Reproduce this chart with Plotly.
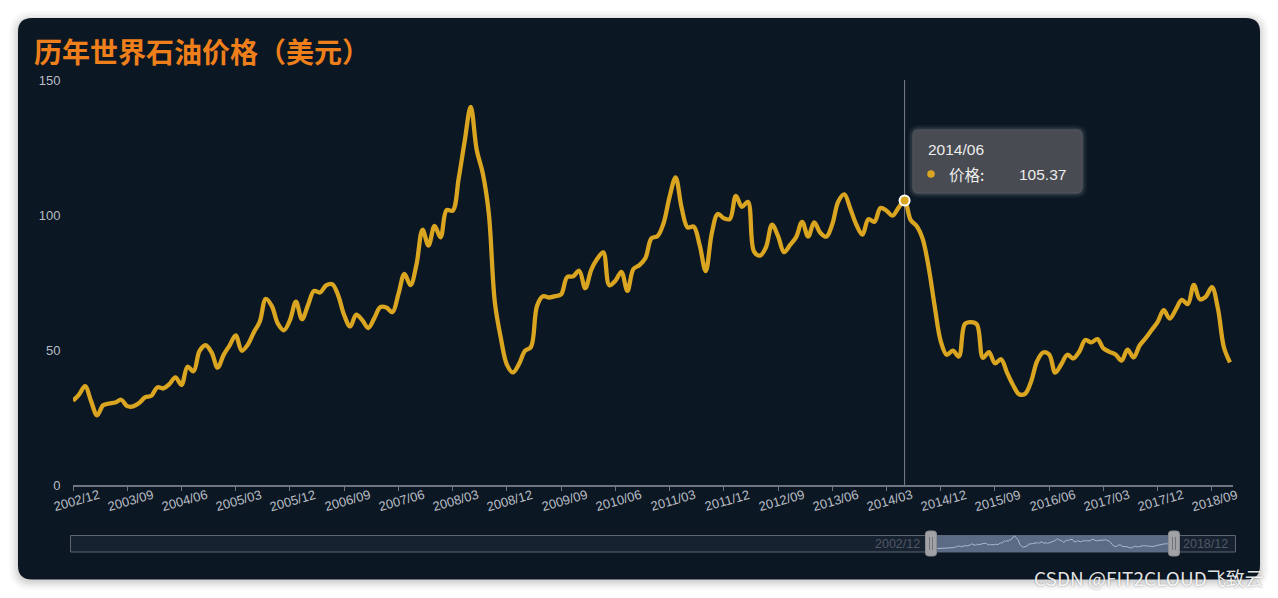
import plotly.graph_objects as go

# ---------------- data ----------------
months = [f"{y}/{m:02d}" for y in range(2002, 2019) for m in range(1, 13)][11:]  # 2002/12 .. 2018/12

prices = [
    31.20,
    33.51, 36.60, 31.04, 25.80, 29.56, 30.19, 30.54, 31.57, 29.20, 29.11, 30.41, 32.52,
    33.05, 36.16, 35.76, 37.38, 39.88, 37.05, 43.80, 42.12, 49.64, 51.76, 49.13, 43.45,
    48.20, 51.75, 55.40, 49.72, 51.97, 56.50, 60.57, 68.94, 66.24, 59.76, 57.32, 61.04,
    67.92, 61.41, 66.63, 71.88, 71.29, 73.93, 74.40, 70.26, 62.91, 58.73, 63.13, 61.05,
    58.14, 61.79, 65.87, 65.71, 64.01, 70.68, 78.21, 74.04, 81.66, 94.53, 88.71, 95.98,
    91.75, 101.84, 101.58, 113.46, 127.35, 140.00, 124.08, 115.46, 100.64, 67.81, 54.43, 44.60,
    41.68, 44.76, 49.66, 51.12, 66.31, 69.89, 69.45, 69.96, 70.61, 77.00, 77.28, 79.36,
    72.89, 79.66, 83.76, 86.15, 73.97, 75.63, 78.95, 71.92, 79.97, 81.43, 84.11, 91.38,
    92.19, 96.97, 106.72, 113.93, 102.70, 95.42, 95.70, 88.81, 79.20, 93.19, 100.36, 98.83,
    98.48, 107.07, 103.02, 104.87, 86.53, 84.96, 88.06, 96.47, 92.19, 86.24, 88.91, 91.82,
    97.49, 92.05, 97.23, 93.46, 91.97, 96.56, 105.03, 107.65, 102.33, 96.38, 92.72, 98.42,
    97.49, 102.59, 101.58, 99.74, 102.71, 105.37, 98.17, 95.96, 91.16, 80.54, 66.15, 53.27,
    48.24, 49.76, 47.60, 59.63, 60.30, 59.47, 47.12, 49.20, 45.09, 46.59, 41.65, 37.04,
    33.62, 33.75, 38.34, 45.92, 49.10, 48.33, 41.60, 44.70, 48.24, 46.86, 49.44, 53.72,
    52.81, 54.01, 50.60, 49.33, 48.32, 46.04, 50.17, 47.23, 51.67, 54.38, 57.40, 60.42,
    64.73, 61.64, 64.94, 68.57, 67.04, 74.15, 68.76, 69.80, 73.25, 65.31, 50.93, 45.41,
]

tick_labels = ["2002/12", "2003/09", "2004/06", "2005/03", "2005/12", "2006/09",
               "2007/06", "2008/03", "2008/12", "2009/09", "2010/06", "2011/03",
               "2011/12", "2012/09", "2013/06", "2014/03", "2014/12", "2015/09",
               "2016/06", "2017/03", "2017/12", "2018/09"]
y_ticks = [0, 50, 100, 150]

title_text = "历年世界石油价格（美元）"
series_name = "价格"
hover_month = "2014/06"
zoom_start, zoom_end = "2002/12", "2018/12"
watermark = "CSDN @FIT2CLOUD飞致云"

# ---------------- geometry helpers ----------------
W, H = 1278, 598
ML, MR, MT, MB = 73, 45, 80, 42
PW, PH = W - ML - MR, H - MT - MB


def px_x(px):
    return (px - ML) / PW


def px_y(py):
    return (H - MB - py) / PH


def rrect(x0, y0, x1, y1, r):
    def P(x, y):
        return f"{px_x(x):.6f},{px_y(y):.6f}"
    return (f"M{P(x0 + r, y0)} L{P(x1 - r, y0)} Q{P(x1, y0)} {P(x1, y0 + r)} "
            f"L{P(x1, y1 - r)} Q{P(x1, y1)} {P(x1 - r, y1)} L{P(x0 + r, y1)} "
            f"Q{P(x0, y1)} {P(x0, y1 - r)} L{P(x0, y0 + r)} Q{P(x0, y0)} {P(x0 + r, y0)} Z")


LINE_COLOR = "#DAA520"
CARD = "#0b1723"
NUM_FONT = "Liberation Sans, Noto Sans CJK SC, sans-serif"
CJK_FONT = "Noto Sans CJK SC, sans-serif"
LABEL_COLOR = "#b9bdc3"

hi = months.index(hover_month)

fig = go.Figure()
fig.add_trace(go.Scatter(
    x=months, y=prices, mode="lines", name=series_name,
    line=dict(color=LINE_COLOR, width=4.3, shape="spline", smoothing=1),
    hoverinfo="skip", xaxis="x", yaxis="y"))
fig.add_trace(go.Scatter(
    x=[months[hi]], y=[prices[hi]], mode="markers",
    marker=dict(size=10, color=LINE_COLOR, line=dict(color="white", width=2)),
    hoverinfo="skip", xaxis="x", yaxis="y"))
# slider mini series (selected window)
fig.add_trace(go.Scatter(
    x=months, y=prices, mode="lines",
    line=dict(color="#a9b9cf", width=1),
    hoverinfo="skip", xaxis="x2", yaxis="y2"))

shapes = []
# card shadow
for e, a in [(9, 0.02), (7, 0.025), (5, 0.03), (3, 0.04), (1, 0.05)]:
    shapes.append(dict(type="path", xref="paper", yref="paper", layer="below",
                       path=rrect(18 - e, 18 - e + 2, 1260 + e, 579.5 + e + 2, 14 + e),
                       fillcolor=f"rgba(0,0,0,{a})", line=dict(width=0)))
# card
shapes.append(dict(type="path", xref="paper", yref="paper", layer="below",
                   path=rrect(18, 18, 1260, 579.5, 14),
                   fillcolor=CARD, line=dict(width=0)))
# slider frame
shapes.append(dict(type="rect", xref="paper", yref="paper", layer="below",
                   x0=px_x(70.5), x1=px_x(1235.5), y0=px_y(552), y1=px_y(535.5),
                   fillcolor="#172230", line=dict(color="#5d6570", width=1)))
# slider window
shapes.append(dict(type="rect", xref="paper", yref="paper", layer="below",
                   x0=px_x(931), x1=px_x(1174), y0=px_y(552), y1=px_y(535.5),
                   fillcolor="#5b6b86", line=dict(width=0)))
# handles
for cx in (931, 1174):
    shapes.append(dict(type="path", xref="paper", yref="paper", layer="above",
                       path=rrect(cx - 5.5, 531, cx + 5.5, 556, 3),
                       fillcolor="#a0a2a6", line=dict(color="#8a8c90", width=1)))
    for dx in (-1.5, 1.5):
        shapes.append(dict(type="line", xref="paper", yref="paper", layer="above",
                           x0=px_x(cx + dx), x1=px_x(cx + dx), y0=px_y(537), y1=px_y(550),
                           line=dict(color="#6f7278", width=1)))
# hover guide line
shapes.append(dict(type="line", xref="x", yref="y", layer="below",
                   x0=hi, x1=hi, y0=0, y1=150,
                   line=dict(color="#7b8089", width=1)))
# tooltip box (glow + body)
for e, a in [(5, 0.04), (3, 0.06), (1.5, 0.08)]:
    shapes.append(dict(type="path", xref="paper", yref="paper", layer="above",
                       path=rrect(913 - e, 130 - e, 1082 + e, 193 + e, 6 + e),
                       fillcolor=f"rgba(255,255,255,{a})", line=dict(width=0)))
shapes.append(dict(type="path", xref="paper", yref="paper", layer="above",
                   path=rrect(913, 130, 1082, 193, 6),
                   fillcolor="#494b52", line=dict(color="#55575e", width=1)))
shapes.append(dict(type="circle", xref="paper", yref="paper", layer="above",
                   x0=px_x(927.2), x1=px_x(934.8), y0=px_y(177.8), y1=px_y(170.2),
                   fillcolor=LINE_COLOR, line=dict(width=0)))

annotations = []
for lab in tick_labels:
    annotations.append(dict(x=months.index(lab), y=0, xref="x", yref="y",
                            text=lab, showarrow=False, textangle=-16,
                            xshift=3, yshift=-15,
                            font=dict(family=NUM_FONT, size=13, color=LABEL_COLOR)))
# tooltip texts
annotations += [
    dict(x=px_x(926), y=px_y(149), xref="paper", yref="paper", text=months[hi],
         xanchor="left", yanchor="middle", showarrow=False,
         font=dict(family=NUM_FONT, size=15.5, color="#ececec")),
    dict(x=px_x(947), y=px_y(174), xref="paper", yref="paper", text=series_name + ":",
         xanchor="left", yanchor="middle", showarrow=False,
         font=dict(family=CJK_FONT, size=15.5, color="#ececec")),
    dict(x=px_x(1068), y=px_y(174), xref="paper", yref="paper", text=f"{prices[hi]:.2f}",
         xanchor="right", yanchor="middle", showarrow=False,
         font=dict(family=NUM_FONT, size=15.5, color="#ececec")),
]
# slider labels
annotations += [
    dict(x=px_x(922), y=px_y(544), xref="paper", yref="paper", text=zoom_start,
         xanchor="right", yanchor="middle", showarrow=False,
         font=dict(family=NUM_FONT, size=12.5, color="#4f5866")),
    dict(x=px_x(1181), y=px_y(544), xref="paper", yref="paper", text=zoom_end,
         xanchor="left", yanchor="middle", showarrow=False,
         font=dict(family=NUM_FONT, size=12.5, color="#4f5866")),
]
# watermark
annotations.append(dict(x=px_x(1266), y=px_y(577), xref="paper", yref="paper",
                        text=watermark, xanchor="right", yanchor="middle", showarrow=False,
                        font=dict(family=CJK_FONT, size=19, color="rgba(255,255,255,0.9)",
                                  shadow="0px 0px 2px rgba(0,0,0,0.45)")))

fig.update_layout(
    width=W, height=H,
    margin=dict(l=ML, r=MR, t=MT, b=MB, pad=0),
    paper_bgcolor="#ffffff",
    plot_bgcolor="rgba(0,0,0,0)",
    showlegend=False,
    hovermode=False,
    title=dict(text=title_text, xref="container", yref="container",
               x=34 / W, xanchor="left", y=1 - 53 / H, yanchor="middle",
               font=dict(family=CJK_FONT, size=28, color="#EE7F1B", weight="bold")),
    xaxis=dict(type="category", categoryorder="array", categoryarray=months,
               range=[0, 192.5], domain=[0, 1], anchor="y",
               showline=True, linecolor="#6f757e", linewidth=1.5,
               ticks="outside", ticklen=4, tickwidth=1, tickcolor="#6f757e",
               tickvals=tick_labels, showticklabels=False,
               showgrid=False, zeroline=False, fixedrange=True),
    yaxis=dict(domain=[px_y(485), 1], range=[0, 150], anchor="x",
               tickvals=y_ticks, ticks="outside", ticklen=9,
               tickcolor="rgba(0,0,0,0)",
               tickfont=dict(family=NUM_FONT, size=13, color=LABEL_COLOR),
               showgrid=False, zeroline=False, showline=False, fixedrange=True),
    xaxis2=dict(type="category", categoryorder="array", categoryarray=months,
                domain=[px_x(931), px_x(1174)], range=[0, len(months) - 1],
                anchor="y2", visible=False, fixedrange=True),
    yaxis2=dict(domain=[px_y(552), px_y(535.5)], range=[0, 140], anchor="x2",
                visible=False, fixedrange=True),
    shapes=shapes,
    annotations=annotations,
)

fig.write_html("out.html")
